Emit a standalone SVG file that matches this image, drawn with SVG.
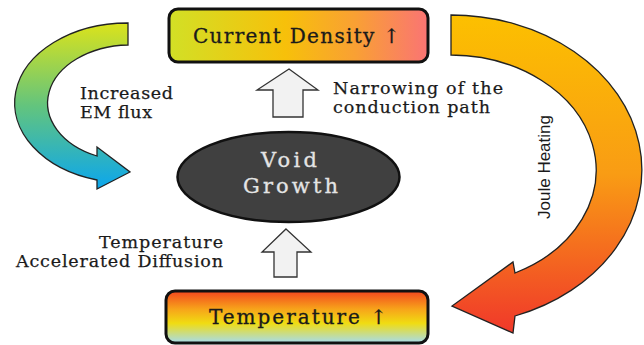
<svg xmlns="http://www.w3.org/2000/svg" width="644" height="345" viewBox="0 0 644 345">
  <style>
    .box { stroke: #111; stroke-width: 3; }
    .curve { stroke: #222; stroke-width: 1.3; stroke-linejoin: miter; }
    .up { fill: #f2f2f2; stroke: #333; stroke-width: 1.3; }
    .lbl { font-family: "DejaVu Serif", "Liberation Serif", serif; font-size: 17.5px; fill: #1a1a1a; stroke: #1a1a1a; stroke-width: 0.25; }
    .head { font-family: "DejaVu Serif", "Liberation Serif", serif; font-size: 20px; fill: #1a1a1a; stroke: #1a1a1a; stroke-width: 0.3; }
    .void { font-family: "DejaVu Serif", "Liberation Serif", serif; font-size: 21px; fill: #e4e4e4; stroke: #e4e4e4; stroke-width: 0.3; }
    .side { font-family: "Liberation Sans", Arial, sans-serif; font-size: 17px; fill: #1a1a1a; }
  </style>
  <defs>
    <linearGradient id="gCurrent" x1="0" y1="0" x2="1" y2="0">
      <stop offset="0" stop-color="#d2e026"/>
      <stop offset="0.45" stop-color="#f7c00a"/>
      <stop offset="0.72" stop-color="#f9a034"/>
      <stop offset="1" stop-color="#fa7474"/>
    </linearGradient>
    <linearGradient id="gTemp" x1="0" y1="0" x2="0" y2="1">
      <stop offset="0" stop-color="#f2461e"/>
      <stop offset="0.35" stop-color="#f7a41a"/>
      <stop offset="0.62" stop-color="#f0dc12"/>
      <stop offset="1" stop-color="#a6dcee"/>
    </linearGradient>
    <linearGradient id="gFlux" gradientUnits="userSpaceOnUse" x1="0" y1="23" x2="0" y2="190">
      <stop offset="0" stop-color="#dbe31b"/>
      <stop offset="0.5" stop-color="#62c47e"/>
      <stop offset="1" stop-color="#0aa6ef"/>
    </linearGradient>
    <linearGradient id="gJoule" gradientUnits="userSpaceOnUse" x1="0" y1="15" x2="0" y2="333">
      <stop offset="0" stop-color="#fcc000"/>
      <stop offset="0.5" stop-color="#f99c14"/>
      <stop offset="1" stop-color="#f0382a"/>
    </linearGradient>
  </defs>

  <!-- connectors -->
  <g id="connectors">
    <!-- curved arrow: current density -> void growth -->
    <path class="curve" fill="url(#gFlux)"
          d="M128,23 A113,80 0 0 0 97,180 L97,189 L130,172 L97,147 L97,156 A83,58 0 0 1 128,45 Z"/>
    <!-- curved arrow: current density -> temperature -->
    <path class="curve" fill="url(#gJoule)"
          d="M451,15 A191,155 0 0 1 515,316 L513,333 L452,306 L513,262 L515,273 A146,115 0 0 0 451,55 Z"/>
    <!-- straight up arrows -->
    <path class="up" d="M289,69 L318,90 L303,90 L303,117 L273,117 L273,90 L257,90 Z"/>
    <path class="up" d="M286,229 L311,252 L297,252 L297,277 L274,277 L274,252 L262,252 Z"/>
    <text class="lbl" x="80" y="99" textLength="93">Increased</text>
    <text class="lbl" x="80" y="118" textLength="72">EM flux</text>
    <text class="lbl" x="333" y="94" textLength="170">Narrowing of the</text>
    <text class="lbl" x="333" y="113" textLength="157">conduction path</text>
    <text class="lbl" x="99" y="248" textLength="124">Temperature</text>
    <text class="lbl" x="16" y="267" textLength="207">Accelerated Diffusion</text>
    <text class="side" x="550" y="167" text-anchor="middle" transform="rotate(-90 550 167)">Joule Heating</text>
  </g>

  <g id="current-density">
    <rect class="box" x="169" y="9" width="259" height="53" rx="9" fill="url(#gCurrent)"/>
    <text class="head" x="193" y="43" textLength="207">Current Density ↑</text>
  </g>

  <g id="void-growth">
    <ellipse cx="288.5" cy="177" rx="111" ry="45" fill="#404040" stroke="#111" stroke-width="2.5"/>
    <text class="void" x="261" y="167" textLength="56">Void</text>
    <text class="void" x="243" y="193" textLength="95">Growth</text>
  </g>

  <g id="temperature">
    <rect class="box" x="166" y="291" width="262" height="52" rx="9" fill="url(#gTemp)"/>
    <text class="head" x="209" y="324" textLength="178">Temperature ↑</text>
  </g>
</svg>
